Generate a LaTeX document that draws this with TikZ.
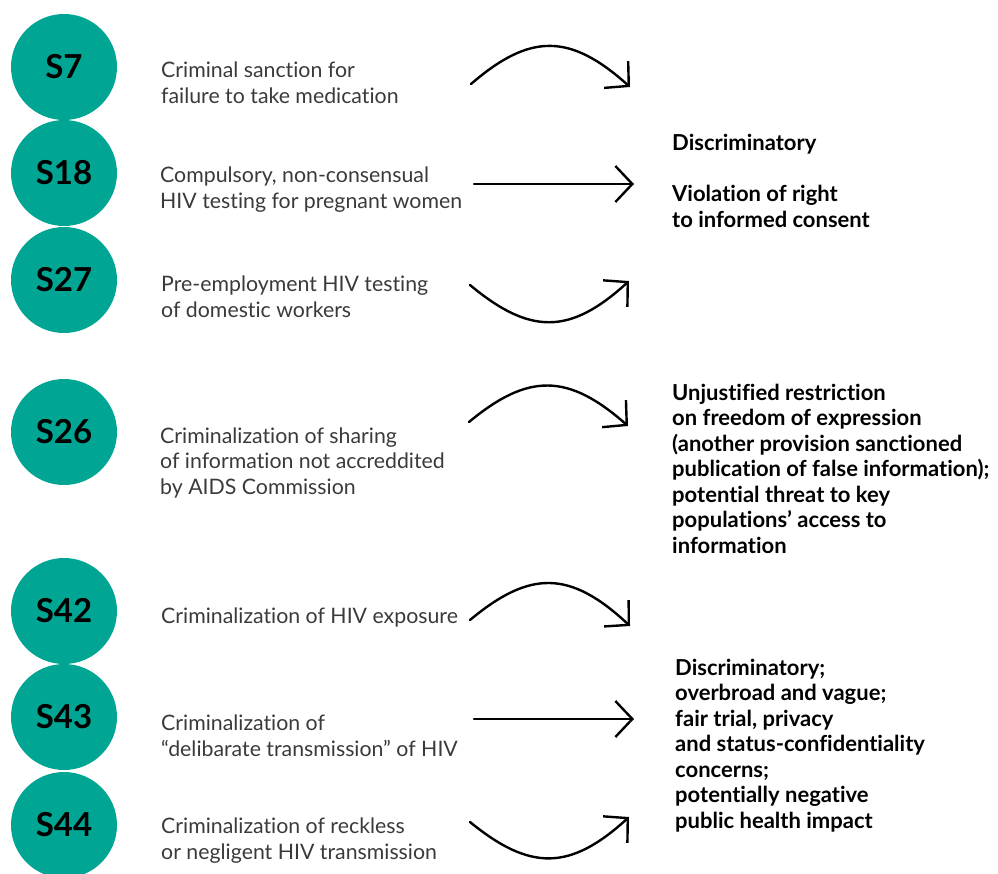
\documentclass[tikz,border=0pt]{standalone}
\usepackage{fontspec}
\setmainfont{Lato}[Ligatures=NoCommon]
\usetikzlibrary{arrows.meta}
\definecolor{sealteal}{HTML}{00A693}
\definecolor{descgray}{HTML}{3A3A3A}
\begin{document}
\begin{tikzpicture}[x=1pt,y=-1pt,
  secnode/.style={circle, fill=sealteal, minimum size=106pt, inner sep=0pt,
    font=\fontsize{33}{33}\selectfont\bfseries},
  desc/.style={anchor=base west, align=left, inner sep=0pt, text=descgray,
    font=\fontsize{21.3}{25.5}\selectfont},
  impact/.style={anchor=base west, align=left, inner sep=0pt,
    font=\fontsize{22}{25.5}\selectfont\bfseries},
  link/.style={line width=2.4pt, line cap=round,
    -{Straight Barb[length=17pt,width=36pt]}}]
\useasboundingbox (0,0) rectangle (998,873);

% section badges
\node[secnode] (s7)  at (64,67)  {S7};
\node[secnode] (s18) at (64,173) {S18};
\node[secnode] (s27) at (64,280) {S27};
\node[secnode] (s26) at (64,432) {S26};
\node[secnode] (s42) at (64,611) {S42};
\node[secnode] (s43) at (64,717) {S43};
\node[secnode] (s44) at (64,825) {S44};

% provisions (positions give the baseline of the last line)
\node[desc] (d7)  at (161,103) {Criminal sanction for\\failure to take medication};
\node[desc] (d18) at (160,208) {Compulsory, non-consensual\\HIV testing for pregnant women};
\node[desc] (d27) at (161,317) {Pre-employment HIV testing\\of domestic workers};
\node[desc] (d26) at (160,494) {Criminalization of sharing\\of information not accreddited\\by AIDS Commission};
\node[desc] (d42) at (161,623) {Criminalization of HIV exposure};
\node[desc] (d43) at (161,756) {Criminalization of\\“delibarate transmission” of HIV};
\node[desc] (d44) at (161,859) {Criminalization of reckless\\or negligent HIV transmission};

% assessments
\node[impact] (i1) at (672,227) {Discriminatory\\[25.5pt]Violation of right\\to informed consent};
\node[impact] (i2) at (672,553) {Unjustified restriction\\on freedom of expression\\(another provision sanctioned\\publication of false information);\\potential threat to key\\populations’ access to\\information};
\node[impact] (i3) at (675,828) {Discriminatory;\\overbroad and vague;\\fair trial, privacy\\and status-confidentiality\\concerns;\\potentially negative\\public health impact};

% arrow end points
\coordinate (a7s)  at (471,84);  \coordinate (a7e)  at (630,87);
\coordinate (a18s) at (474,184); \coordinate (a18e) at (634,184);
\coordinate (a27s) at (470,285); \coordinate (a27e) at (629,281);
\coordinate (a26s) at (469,422); \coordinate (a26e) at (628,426);
\coordinate (a42s) at (470,620); \coordinate (a42e) at (630,626);
\coordinate (a43s) at (474,719); \coordinate (a43e) at (634,719);
\coordinate (a44s) at (470,822); \coordinate (a44e) at (629,817);

\draw[link] (a7s) .. controls (530,33) and (570,33) .. (a7e);
\draw[link] (a18s) -- (a18e);
\draw[link] (a27s) .. controls (530,335) and (570,335) .. (a27e);
\draw[link] (a26s) .. controls (528,373) and (568,373) .. (a26e);
\draw[link] (a42s) .. controls (530,570) and (570,570) .. (a42e);
\draw[link] (a43s) -- (a43e);
\draw[link] (a44s) .. controls (530,871) and (570,871) .. (a44e);
\end{tikzpicture}
\end{document}
